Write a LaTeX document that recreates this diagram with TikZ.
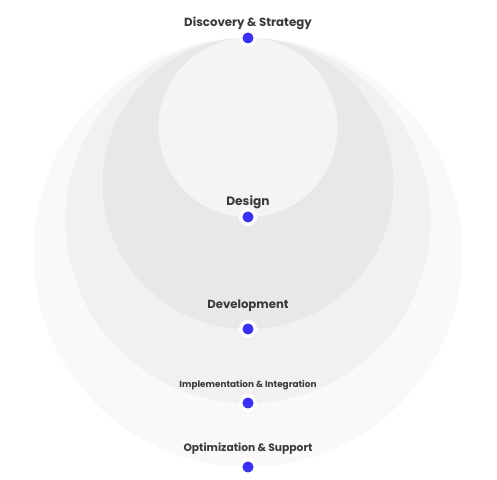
\documentclass[tikz,border=0pt]{standalone}
\usepackage{fontspec}
\setmainfont{Poppins}
\definecolor{ringA}{HTML}{F9F9F9}
\definecolor{ringB}{HTML}{F1F1F1}
\definecolor{ringC}{HTML}{E8E8E8}
\definecolor{ringD}{HTML}{F4F4F4}
\definecolor{dotblue}{HTML}{3A30F6}
\definecolor{txt}{HTML}{3A3A3A}
\tikzset{
  dotnode/.style={circle,fill=dotblue,minimum size=14.5pt,inner sep=0pt,draw=white,line width=3.5pt},
  lbl/.style={text=txt,font=\bfseries,inner sep=0pt}
}
\begin{document}
\begin{tikzpicture}[x=1pt,y=-1pt]
\useasboundingbox[fill=white] (0,0) rectangle (497,479);
\fill[ringA] (248,252.5) circle (214.5);
\fill[ringB] (248,220.5) circle (182.5);
\fill[ringC] (248,183.5) circle (145.5);
\fill[ringD] (248,127.5) circle (89.5);
\node[dotnode] (d1) at (248,38) {};
\node[dotnode] (d2) at (248,217) {};
\node[dotnode] (d3) at (248,329) {};
\node[dotnode] (d4) at (248,403) {};
\node[dotnode] (d5) at (248,467) {};
\node[lbl,font=\fontsize{11.8}{13}\selectfont\bfseries] (t1) at (248,23.5) {Discovery \& Strategy};
\node[lbl,font=\fontsize{12.2}{14}\selectfont\bfseries] (t2) at (248,202.5) {Design};
\node[lbl,font=\fontsize{11.7}{13}\selectfont\bfseries] (t3) at (248,305.5) {Development};
\node[lbl,font=\fontsize{8.9}{10}\selectfont\bfseries] (t4) at (248,385.5) {Implementation \& Integration};
\node[lbl,font=\fontsize{10.7}{12}\selectfont\bfseries] (t5) at (248,448.5) {Optimization \& Support};
\end{tikzpicture}
\end{document}
